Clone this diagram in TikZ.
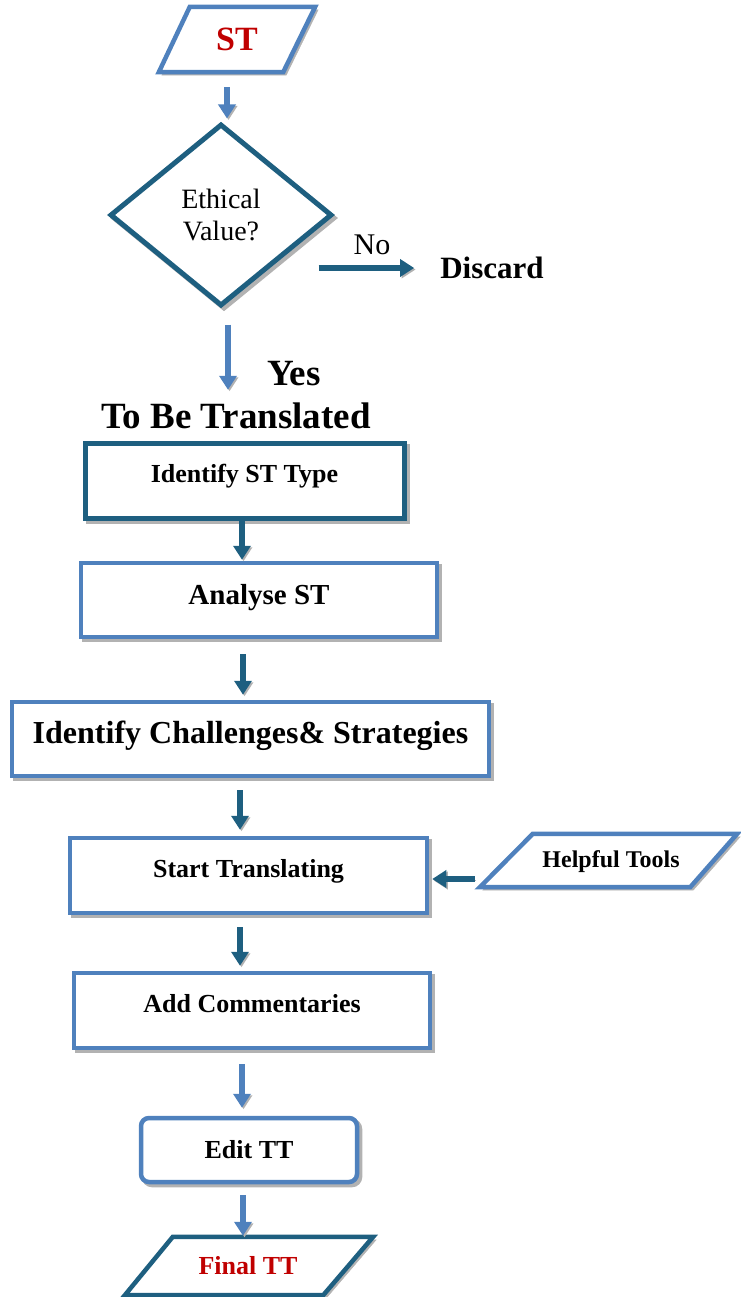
\documentclass[tikz,border=0pt]{standalone}
\usepackage{fontspec}
\setmainfont{Liberation Serif}
\usetikzlibrary{shapes.geometric,arrows.meta,shadows}
\definecolor{lblue}{RGB}{79,129,189}
\definecolor{dteal}{RGB}{30,95,128}
\definecolor{dred}{RGB}{192,0,0}
\begin{document}
\begin{tikzpicture}[x=1pt,y=-1pt,
  shad/.style={drop shadow={shadow xshift=3pt,shadow yshift=-3pt,fill=black!30,draw=black!30,opacity=1}},
  box/.style={draw=lblue, fill=white, shad, line width=4.5pt, inner sep=0pt,
    font=\bfseries\fontsize{26}{30}\selectfont},
  paratext/.style={rectangle, inner sep=0pt, font=\bfseries\fontsize{26}{30}\selectfont},
  paraline/.style={draw=lblue, fill=white, shad, line width=4.5pt, line join=miter},
  lbl/.style={inner sep=0pt},
  arr/.style={line width=5.5pt, -{Triangle[width=17pt,length=14pt]},
    preaction={draw=black!30, transform canvas={shift={(1.5pt,-1.5pt)}}}},
]
\useasboundingbox (0,0) rectangle (740,1297);

% x positions of vertical connectors
\coordinate (x227) at (227,0);
\coordinate (x228) at (228,0);
\coordinate (x240) at (240,0);
\coordinate (x242) at (242,0);
\coordinate (x243) at (243,0);

% ST (input parallelogram)
\node[paratext, minimum width=156pt, minimum height=65pt] (st) at (237,39.5) {};
\draw[paraline] ([xshift=31pt]st.north west) -- (st.north east)
   -- ([xshift=-32pt]st.south east) -- (st.south west) -- cycle;
\node[text=dred, font=\bfseries\fontsize{34}{36}\selectfont] at (st.center) {ST};

\node[diamond, draw=dteal, fill=white, shad, line width=5pt, inner sep=0pt,
      minimum width=222pt, minimum height=182pt, align=center,
      font=\fontsize{28}{32}\selectfont] (dec) at (221,215) {Ethical\\Value?};

\node[lbl, font=\fontsize{30}{32}\selectfont] (no) at (372,245) {No};
\node[lbl, font=\bfseries\fontsize{31}{34}\selectfont] (disc) at (492,268) {Discard};

\node[lbl, font=\bfseries\fontsize{37}{40}\selectfont] (yes) at (294,374) {Yes};
\node[lbl, font=\bfseries\fontsize{37}{40}\selectfont] (tbt) at (236,416) {To Be Translated};

\node[box, draw=dteal, line width=5pt, minimum width=319pt, minimum height=75pt, text depth=14pt]
      (id) at (244.5,480.5) {Identify ST Type};
\node[box, minimum width=356pt, minimum height=74pt, text depth=12pt, font=\bfseries\fontsize{29}{32}\selectfont]
      (an) at (259,600) {Analyse ST};
\node[box, minimum width=477pt, minimum height=74pt, text depth=14pt, font=\bfseries\fontsize{32}{36}\selectfont]
      (ch) at (250.5,739) {Identify Challenges\& Strategies};
\node[box, minimum width=357pt, minimum height=75pt, text depth=14pt]
      (stt) at (248.5,875.5) {Start Translating};

% Helpful Tools (input parallelogram)
\node[paratext, minimum width=257pt, minimum height=53pt] (ht) at (608.5,860.5) {};
\draw[paraline] ([xshift=53pt]ht.north west) -- (ht.north east)
   -- ([xshift=-47pt]ht.south east) -- (ht.south west) -- cycle;
\node[font=\bfseries\fontsize{24}{28}\selectfont] at (611,862) {Helpful Tools};

\node[box, minimum width=356pt, minimum height=75pt, text depth=15pt]
      (ac) at (252,1010.5) {Add Commentaries};
\node[box, rounded corners=8pt, minimum width=216pt, minimum height=64pt]
      (ed) at (249,1150) {Edit TT};

% Final TT (output parallelogram)
\node[paratext, minimum width=248pt, minimum height=58pt] (ft) at (249,1266) {};
\draw[paraline, draw=dteal] ([xshift=48pt]ft.north west) -- (ft.north east)
   -- ([xshift=-50pt]ft.south east) -- (ft.south west) -- cycle;
\node[text=dred, font=\bfseries\fontsize{26}{30}\selectfont] at (248,1266) {Final TT};

% connectors
\draw[arr, lblue, shorten <=15pt, shorten >=3pt] (st.south -| x227) -- (dec.north -| x227);
\draw[arr, lblue, shorten <=16pt, shorten >=13pt] (dec.south -| x228) -- (tbt.north -| x228);
\draw[arr, dteal, shorten >=26pt] ([xshift=-16pt]dec.east |- disc.west) -- (disc.west);
\draw[arr, dteal, shorten >=1pt] (id.south -| x242) -- (an.north -| x242);
\draw[arr, dteal, shorten <=15pt, shorten >=5pt] (an.south -| x243) -- (ch.north -| x243);
\draw[arr, dteal, shorten <=12pt, shorten >=6pt] (ch.south -| x240) -- (stt.north -| x240);
\draw[arr, dteal, shorten <=5pt, shorten >=3pt] ([yshift=-18.5pt]ht.west) -- ([yshift=-18.5pt]ht.west -| stt.east);
\draw[arr, dteal, shorten <=12pt, shorten >=5pt] (stt.south -| x240) -- (ac.north -| x240);
\draw[arr, lblue, shorten <=14pt, shorten >=8pt] (ac.south -| x242) -- (ed.north -| x242);
\draw[arr, lblue, shorten <=11pt, shorten >=1pt] (ed.south -| x243) -- (ft.north -| x243);
\end{tikzpicture}
\end{document}
